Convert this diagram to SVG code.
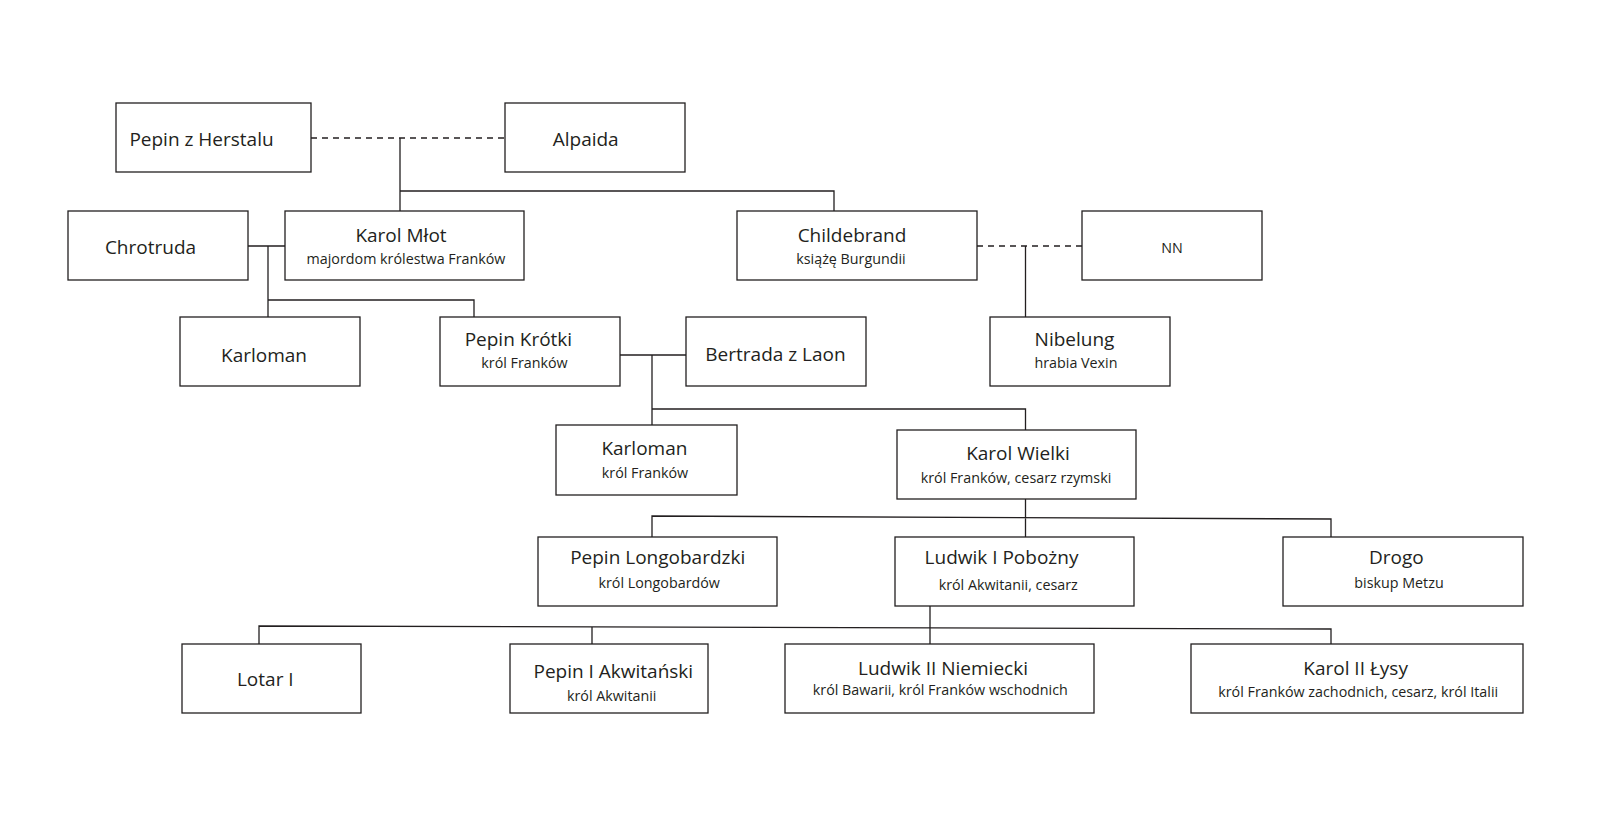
<svg xmlns="http://www.w3.org/2000/svg" width="1600" height="839" viewBox="0 0 1600 839">
<style>
rect{fill:#fff;stroke:#231f20;stroke-width:1.3}
.t{font-family:"Open Sans","Noto Sans",sans-serif;font-size:19px;fill:#231f20;text-anchor:middle}
.s{font-family:"Open Sans","Noto Sans",sans-serif;font-size:14.3px;fill:#231f20;text-anchor:middle}
#connectors path{fill:none;stroke:#231f20;stroke-width:1.3}
#connectors .d{stroke-dasharray:6 5}
</style>
<rect x="0" y="0" width="1600" height="839" style="fill:#fff;stroke:none"/>
<g id="connectors">
<path class="d" d="M311 138H505"/>
<path d="M400 138V211M400 191H834V211"/>
<path d="M248 246H285M268 246V317M268 300H474V317"/>
<path d="M620 355H686M652 355V425M652 409H1025.5V430"/>
<path class="d" d="M977 246H1082"/>
<path d="M1025.5 246V317"/>
<path d="M1025.5 499V537M652 537V516L1331 519V537"/>
<path d="M930 606V644M259 644V626L1331 629V644M592 626.5V644"/>
</g>
<g id="pepin-herstal"><rect x="116" y="103" width="195" height="69"/><text class="t" x="201.5" y="145.5">Pepin z Herstalu</text></g>
<g id="alpaida"><rect x="505" y="103" width="180" height="69"/><text class="t" x="585.7" y="145.5">Alpaida</text></g>
<g id="chrotruda"><rect x="68" y="211" width="180" height="69"/><text class="t" x="150.5" y="254">Chrotruda</text></g>
<g id="karol-mlot"><rect x="285" y="211" width="239" height="69"/><text class="t" x="401" y="242">Karol Młot</text><text class="s" x="406" y="264">majordom królestwa Franków</text></g>
<g id="childebrand"><rect x="737" y="211" width="240" height="69"/><text class="t" x="852" y="242">Childebrand</text><text class="s" x="851" y="264">książę Burgundii</text></g>
<g id="nn"><rect x="1082" y="211" width="180" height="69"/><text class="s" x="1172" y="253">NN</text></g>
<g id="karloman1"><rect x="180" y="317" width="180" height="69"/><text class="t" x="264" y="361.5">Karloman</text></g>
<g id="pepin-krotki"><rect x="440" y="317" width="180" height="69"/><text class="t" x="518.4" y="346">Pepin Krótki</text><text class="s" x="524.5" y="368">król Franków</text></g>
<g id="bertrada"><rect x="686" y="317" width="180" height="69"/><text class="t" x="775.5" y="360.5">Bertrada z Laon</text></g>
<g id="nibelung"><rect x="990" y="317" width="180" height="69"/><text class="t" x="1074.5" y="346">Nibelung</text><text class="s" x="1076" y="368">hrabia Vexin</text></g>
<g id="karloman2"><rect x="556" y="425" width="181" height="70"/><text class="t" x="644.4" y="455">Karloman</text><text class="s" x="645" y="477.5">król Franków</text></g>
<g id="karol-wielki"><rect x="897" y="430" width="239" height="69"/><text class="t" x="1018" y="460">Karol Wielki</text><text class="s" x="1016" y="482.5">król Franków, cesarz rzymski</text></g>
<g id="pepin-longobardzki"><rect x="538" y="537" width="239" height="69"/><text class="t" x="657.7" y="564">Pepin Longobardzki</text><text class="s" x="659.2" y="587.5">król Longobardów</text></g>
<g id="ludwik1"><rect x="895" y="537" width="239" height="69"/><text class="t" x="1001.5" y="564">Ludwik I Pobożny</text><text class="s" x="1008.2" y="589.5">król Akwitanii, cesarz</text></g>
<g id="drogo"><rect x="1283" y="537" width="240" height="69"/><text class="t" x="1396.4" y="564">Drogo</text><text class="s" x="1399" y="587.5">biskup Metzu</text></g>
<g id="lotar1"><rect x="182" y="644" width="179" height="69"/><text class="t" x="265.3" y="686">Lotar I</text></g>
<g id="pepin1"><rect x="510" y="644" width="198" height="69"/><text class="t" x="613.3" y="677.5">Pepin I Akwitański</text><text class="s" x="611.7" y="701">król Akwitanii</text></g>
<g id="ludwik2"><rect x="785" y="644" width="309" height="69"/><text class="t" x="943" y="674.5">Ludwik II Niemiecki</text><text class="s" x="940.3" y="695">król Bawarii, król Franków wschodnich</text></g>
<g id="karol2"><rect x="1191" y="644" width="332" height="69"/><text class="t" x="1355.6" y="674.5">Karol II Łysy</text><text class="s" x="1358.2" y="697">król Franków zachodnich, cesarz, król Italii</text></g>
</svg>
